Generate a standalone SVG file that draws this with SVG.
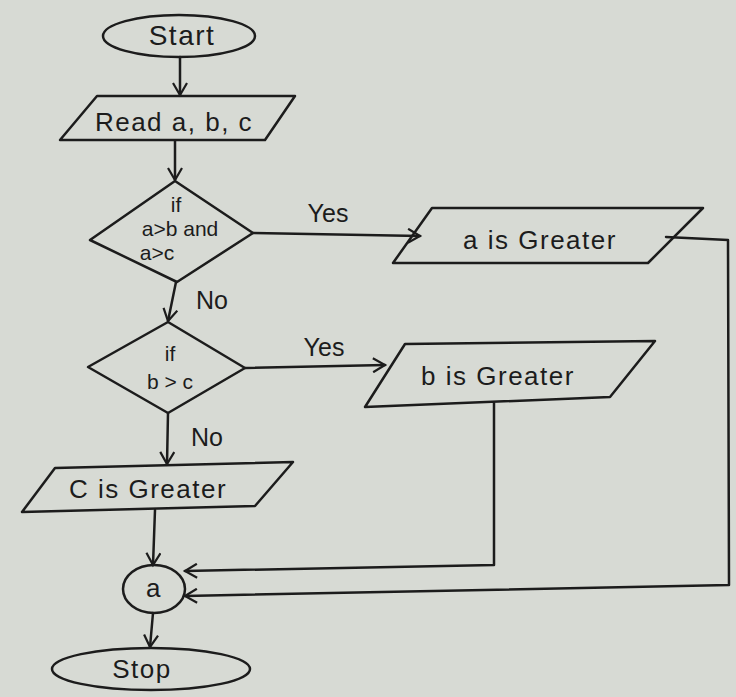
<svg xmlns="http://www.w3.org/2000/svg" width="736" height="697" viewBox="0 0 736 697">
<defs>
<marker id="arr" markerWidth="16" markerHeight="16" refX="13" refY="8" orient="auto" markerUnits="userSpaceOnUse">
<path d="M1,1 L13,8 L1,15" fill="none" stroke="#1c1c1c" stroke-width="2.2"/>
</marker>
</defs>
<style>
.s{fill:none;stroke:#1c1c1c;stroke-width:2.5;stroke-linejoin:round;stroke-linecap:round}
.t{font-family:"Liberation Sans","DejaVu Sans",sans-serif;fill:#1c1c1c;text-anchor:middle;font-size:26px;letter-spacing:1.5px}
.d{font-family:"Liberation Sans","DejaVu Sans",sans-serif;fill:#1c1c1c;text-anchor:middle;font-size:21px}
.l{font-family:"Liberation Sans","DejaVu Sans",sans-serif;fill:#1c1c1c;text-anchor:middle;font-size:25px}
</style>
<rect width="736" height="697" fill="#d7dad4"/>
<g id="connectors">
<path class="s" d="M180,57 L180,95" marker-end="url(#arr)"/>
<path class="s" d="M175,141 L175,180" marker-end="url(#arr)"/>
<path class="s" d="M253,233 L420,236" marker-end="url(#arr)"/>
<path class="s" d="M176,282 L168,321" marker-end="url(#arr)"/>
<path class="s" d="M245,368 L385,365" marker-end="url(#arr)"/>
<path class="s" d="M168,413 L167,464" marker-end="url(#arr)"/>
<path class="s" d="M155,510 L153,565" marker-end="url(#arr)"/>
<path class="s" d="M494,403 L494,565 L185,571" marker-end="url(#arr)"/>
<path class="s" d="M666,237 L728,240 L729,585 L185,596" marker-end="url(#arr)"/>
<path class="s" d="M153,613 L150,647" marker-end="url(#arr)"/>
<text class="l" x="328" y="222">Yes</text>
<text class="l" x="212" y="309">No</text>
<text class="l" x="324" y="356">Yes</text>
<text class="l" x="207" y="446">No</text>
</g>
<g id="start">
<ellipse class="s" cx="179" cy="36" rx="76" ry="21"/>
<text class="t" x="182" y="45" style="font-size:28px">Start</text>
</g>
<g id="read">
<polygon class="s" points="97,96 295,96 265,140 60,140"/>
<text class="t" x="174" y="131">Read a, b, c</text>
</g>
<g id="decision1">
<polygon class="s" points="175,181 253,233 177,282 90,240"/>
<text class="d" x="176" y="212">if</text>
<text class="d" x="180" y="236">a&gt;b and</text>
<text class="d" x="157" y="260">a&gt;c</text>
</g>
<g id="aGreater">
<polygon class="s" points="432,208 703,208 648,263 393,263"/>
<text class="t" x="540" y="249">a is Greater</text>
</g>
<g id="decision2">
<polygon class="s" points="168,322 245,368 168,413 88,367"/>
<text class="d" x="170" y="361">if</text>
<text class="d" x="170" y="389">b &gt; c</text>
</g>
<g id="bGreater">
<polygon class="s" points="405,344 655,341 610,397 365,407"/>
<text class="t" x="498" y="385">b is Greater</text>
</g>
<g id="cGreater">
<polygon class="s" points="55,468 293,462 255,506 22,512"/>
<text class="t" x="148" y="498">C is Greater</text>
</g>
<g id="connector">
<ellipse class="s" cx="154" cy="589" rx="31" ry="24"/>
<text class="t" x="154" y="597">a</text>
</g>
<g id="stop">
<ellipse class="s" cx="151" cy="669" rx="99" ry="21"/>
<text class="t" x="142" y="678">Stop</text>
</g>
</svg>
